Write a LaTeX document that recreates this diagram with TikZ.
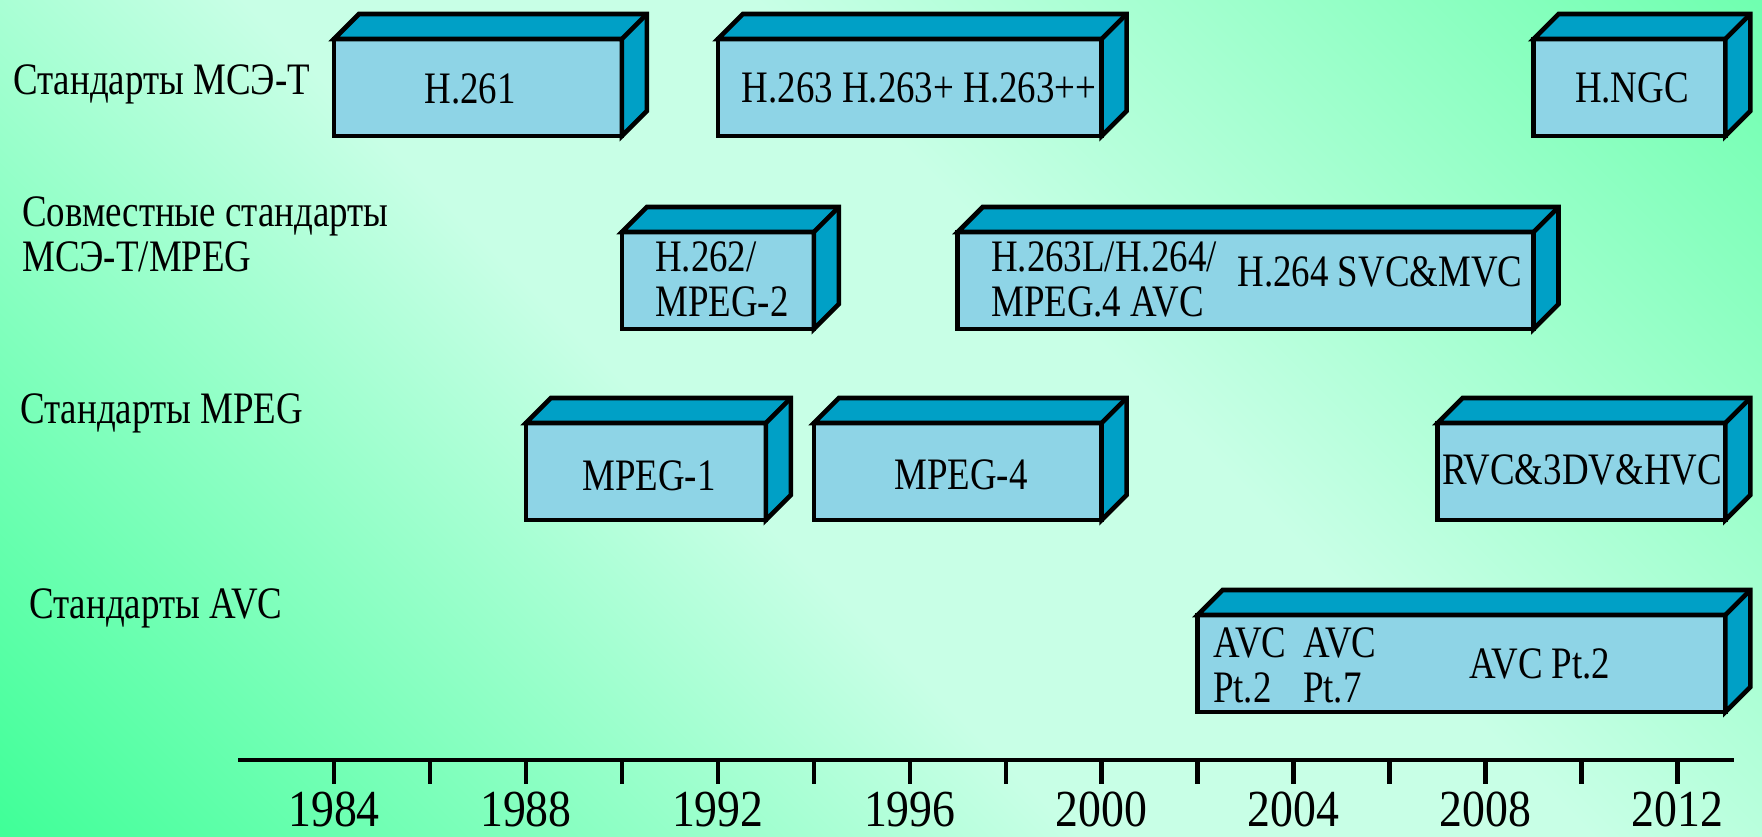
\documentclass[tikz,border=0pt]{standalone}
\usepackage{fontspec}
\setmainfont[FakeStretch=0.82]{Liberation Serif}
\newfontfamily\yearfam[FakeStretch=0.88]{Liberation Serif}
\definecolor{frontc}{RGB}{142,212,230}
\definecolor{sidec}{RGB}{0,160,198}
\definecolor{bgA}{RGB}{64,255,152}
\definecolor{bgM}{RGB}{200,255,230}
\definecolor{bgB}{RGB}{112,255,176}
\pgfdeclarehorizontalshading{bgsh}{100bp}{color(0bp)=(bgA); color(14.64bp)=(bgA); color(44bp)=(bgM); color(58bp)=(bgM); color(85.36bp)=(bgB); color(100bp)=(bgB)}
\newcommand\lblfont{\fontsize{45}{50}\selectfont}
\newcommand\yrfont{\yearfam\fontsize{52}{56}\selectfont}
\newcommand\stdbox[4]{%
  \node[boxfront, minimum width={47.98*(#3-#2)}, minimum height=97] (#1) at ({334+47.98*((#2+#3)/2-1984)}, {#4+48.5}) {};
  \filldraw[boxface] (#1.north west) -- ++(25,-25) -- ([shift={(25,-25)}]#1.north east) -- ([shift={(25,-25)}]#1.south east) -- (#1.south east) -- (#1.north east) -- cycle;
  \draw[boxline] (#1.north east) -- ++(25,-25);
}
\begin{document}
\begin{tikzpicture}[x=1pt,y=-1pt, line join=miter,
  boxline/.style={line width=4.6pt, draw=black},
  boxfront/.style={boxline, fill=frontc, rectangle, inner sep=0pt, outer sep=0pt},
  boxface/.style={boxline, fill=sidec},
  lbl/.style={anchor=base west, inner sep=0pt, font=\lblfont},
  txt/.style={anchor=base, inner sep=0pt, font=\lblfont},
  yr/.style={anchor=base, inner sep=0pt, font=\yrfont},
  axisline/.style={line width=4.4pt}]
\useasboundingbox (0,0) rectangle (1762,837);
\shade[shading=bgsh, shading angle=45] (0,0) rectangle (1762,837);

% left labels
\node[lbl] (l1) at (13,95) {Стандарты МСЭ-Т};
\node[lbl] (l2a) at (22,227) {Совместные стандарты};
\node[lbl] (l2b) at (22,272) {МСЭ-Т/MPEG};
\node[lbl] (l3) at (20,423) {Стандарты MPEG};
\node[lbl] (l4) at (29,618) {Стандарты AVC};

% boxes
\stdbox{h261}{1984}{1990}{39}
\stdbox{h263}{1992}{2000}{39}
\stdbox{hngc}{2009}{2013}{39}
\stdbox{h262}{1990}{1994}{232}
\stdbox{h264}{1997}{2009}{232}
\stdbox{mpegone}{1988}{1993}{423}
\stdbox{mpegfour}{1994}{2000}{423}
\stdbox{rvc}{2007}{2013}{423}
\stdbox{avc}{2002}{2013}{615}

% box texts
\node[txt] (t261) at (470,104) {H.261};
\node[txt] (t263) at (919,103) {H.263 H.263+ H.263++};
\node[txt] (tngc) at (1632,103) {H.NGC};
\node[lbl] (t262a) at (655,272) {H.262/};
\node[lbl] (t262b) at (655,316) {MPEG-2};
\node[lbl] (t264a) at (991,272) {H.263L/H.264/};
\node[lbl] (t264b) at (991,316) {MPEG.4 AVC};
\node[txt] (t264c) at (1380,287) {H.264 SVC\&MVC};
\node[txt] (tm1) at (649,490) {MPEG-1};
\node[txt] (tm4) at (961,489) {MPEG-4};
\node[txt] (trvc) at (1582,484) {RVC\&3DV\&HVC};
\node[lbl] (ta1) at (1213,657) {AVC};
\node[lbl] (ta2) at (1213,702) {Pt.2};
\node[lbl] (ta3) at (1303,657) {AVC};
\node[lbl] (ta4) at (1303,702) {Pt.7};
\node[txt] (ta5) at (1540,678) {AVC Pt.2};

% axis
\coordinate (ax0) at (238,760);
\coordinate (ax1) at (1734,760);
\draw[axisline] (ax0) -- (ax1);
\foreach \yy in {1984,1986,...,2012}
  \draw[axisline] ({334+47.98*(\yy-1984)},760) -- ++(0,24);
\foreach \yy in {1984,1988,...,2012}
  \node[yr] (y\yy) at ({334+47.98*(\yy-1984)},826) {\yy};
\end{tikzpicture}
\end{document}
